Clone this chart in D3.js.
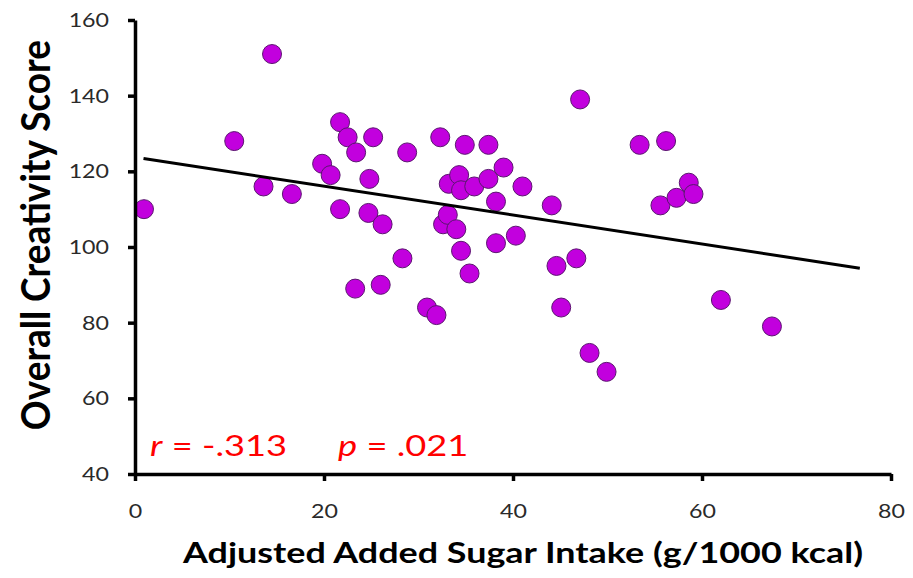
<!DOCTYPE html>
<html>
<head>
<meta charset="utf-8">
<script src="https://cdn.jsdelivr.net/npm/d3@7"></script>
<style>
  html, body { margin: 0; padding: 0; background: #fff; }
  svg { display: block; }
</style>
</head>
<body>
<svg id="chart" width="913" height="578"></svg>
<script>
// ---- data ----
const sugarIntake = [0.95, 10.5, 13.6, 14.5, 16.6, 19.8, 20.7, 21.7, 21.7, 22.5,
  23.3, 23.4, 24.7, 24.8, 25.2, 26.0, 26.2, 28.3, 28.8, 30.9,
  31.9, 32.3, 32.6, 33.1, 33.2, 34.0, 34.3, 34.5, 34.5, 34.9,
  35.4, 35.9, 37.4, 37.4, 38.2, 38.2, 39.0, 40.3, 41.0, 44.1,
  44.6, 45.1, 46.7, 47.1, 48.1, 49.9, 53.4, 55.6, 56.2, 57.3,
  58.6, 59.1, 62.0, 67.4];
const creativity = [110, 128, 116, 151, 114, 122, 119, 133, 110, 129,
  89, 125, 109, 118, 129, 90, 106, 97, 125, 84,
  82, 129, 106, 108.5, 116.7, 104.7, 119, 115, 99, 127,
  93, 116, 127, 118, 112, 101, 121, 103, 116, 111,
  95, 84, 97, 139, 72, 67, 127, 111, 128, 113,
  117, 114, 86, 79];
const fitX = [0.9, 76.7];
const fitY = [123.4, 94.4];
const xTicks = [0, 20, 40, 60, 80];
const yTicks = [40, 60, 80, 100, 120, 140, 160];
const xTitle = "Adjusted Added Sugar Intake (g/1000 kcal)";
const yTitle = "Overall Creativity Score";

// ---- layout ----
const svg = d3.select("#chart");
const mLeft = 135, mRight = 891, mTop = 20, mBottom = 474;
const x = d3.scaleLinear().domain([0, 80]).range([mLeft, mRight]);
const y = d3.scaleLinear().domain([40, 160]).range([mBottom, mTop]);
const font = "Lato, 'Open Sans', sans-serif";

function stretch(sel, k) {
  sel.each(function () {
    const w = this.getComputedTextLength();
    d3.select(this).attr("textLength", w * k).attr("lengthAdjust", "spacingAndGlyphs");
  });
}

// points
svg.append("g").selectAll("circle")
  .data(sugarIntake.map((d, i) => [d, creativity[i]]))
  .join("circle")
  .attr("cx", d => x(d[0]))
  .attr("cy", d => y(d[1]))
  .attr("r", 9.5)
  .attr("fill", "#C200DE")
  .attr("stroke", "#5B1670")
  .attr("stroke-width", 1);

// regression line
svg.append("line")
  .attr("x1", x(fitX[0])).attr("y1", y(fitY[0]))
  .attr("x2", x(fitX[1])).attr("y2", y(fitY[1]))
  .attr("stroke", "#000").attr("stroke-width", 3);

// axes
const xAxis = svg.append("g").attr("transform", `translate(0,${mBottom})`)
  .call(d3.axisBottom(x).tickValues(xTicks).tickSize(7).tickSizeOuter(0).tickPadding(23));
const yAxis = svg.append("g").attr("transform", `translate(${mLeft},0)`)
  .call(d3.axisLeft(y).tickValues(yTicks).tickSize(7).tickSizeOuter(0).tickPadding(19));
[xAxis, yAxis].forEach(a => {
  a.select(".domain").attr("stroke", "#000").attr("stroke-width", 3.5);
  a.selectAll(".tick line").attr("stroke", "#000").attr("stroke-width", 3.5);
  a.selectAll(".tick text").attr("fill", "#2a2a2a")
    .style("font-family", font).style("font-size", "20px")
    .call(stretch, 1.16);
});

// axis titles
svg.append("text")
  .attr("x", 183).attr("y", 563)
  .style("font-family", font).style("font-weight", "bold").style("font-size", "29px")
  .attr("fill", "#000")
  .text(xTitle)
  .attr("textLength", 680).attr("lengthAdjust", "spacingAndGlyphs");
svg.append("text")
  .attr("transform", "translate(50,235) scale(1.08,1) rotate(-90)")
  .attr("text-anchor", "middle")
  .style("font-family", font).style("font-weight", "bold").style("font-size", "37px")
  .attr("fill", "#000")
  .text(yTitle);

// statistics annotation
const stat1 = svg.append("text").attr("transform", "translate(150,456) scale(1.25,1)")
  .style("font-family", font).style("font-size", "29px").attr("fill", "#FF0000");
stat1.append("tspan").style("font-style", "italic").text("r");
stat1.append("tspan").text(" = -.313");
const stat2 = svg.append("text").attr("transform", "translate(338,456) scale(1.25,1)")
  .style("font-family", font).style("font-size", "29px").attr("fill", "#FF0000");
stat2.append("tspan").style("font-style", "italic").text("p");
stat2.append("tspan").text(" = .021");
</script>
</body>
</html>
